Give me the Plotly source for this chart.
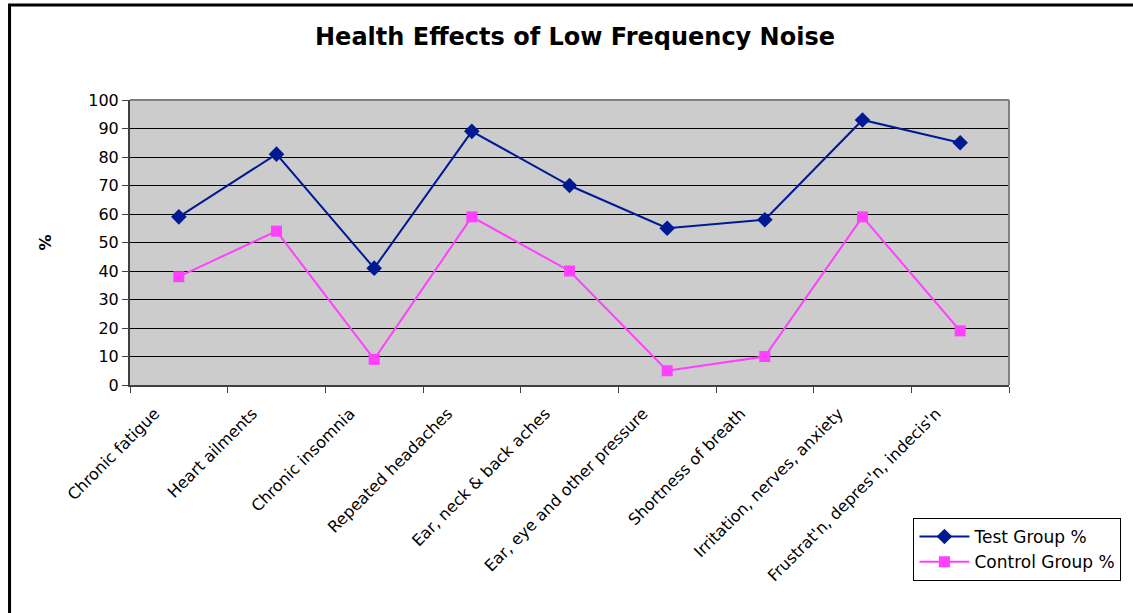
import plotly.graph_objects as go

categories = ["Chronic fatigue", "Heart ailments", "Chronic insomnia", "Repeated headaches",
              "Ear, neck & back aches", "Ear, eye and other pressure", "Shortness of breath",
              "Irritation, nerves, anxiety", "Frustrat'n, depres'n, indecis'n"]
test_group = [59, 81, 41, 89, 70, 55, 58, 93, 85]
control_group = [38, 54, 9, 59, 40, 5, 10, 59, 19]
y_ticks = [0, 10, 20, 30, 40, 50, 60, 70, 80, 90, 100]

FONT = "DejaVu Sans"
NAVY = "#001A94"
PINK = "#FF40FF"

fig = go.Figure()
fig.add_trace(go.Scatter(x=categories, y=test_group, name="Test Group %", mode="lines+markers",
                         line=dict(color=NAVY, width=2),
                         marker=dict(symbol="diamond", size=12, color=NAVY)))
fig.add_trace(go.Scatter(x=categories, y=control_group, name="Control Group %", mode="lines+markers",
                         line=dict(color=PINK, width=2),
                         marker=dict(symbol="square", size=11, color=PINK)))

W, H = 1133, 613
L, R, T, B = 130, 120, 100, 228
pw, ph = W - L - R, H - T - B

def px(xp):
    return (xp - L) / pw

def py(yp):
    return (H - B - yp) / ph

fig.update_layout(
    width=W, height=H,
    margin=dict(l=L, r=R, t=T, b=B),
    paper_bgcolor="white", plot_bgcolor="#CCCCCC",
    font=dict(family=FONT, size=16, color="black"),
    title=dict(text="<b>Health Effects of Low Frequency Noise</b>", x=575 / W, xanchor="center",
               y=1 - 37 / H, yanchor="middle", font=dict(family=FONT, size=24, color="black")),
    showlegend=True,
    legend=dict(x=px(917), y=py(518), xanchor="left", yanchor="top",
                bordercolor="black", borderwidth=1, bgcolor="white", itemwidth=50,
                font=dict(family=FONT, size=17), tracegroupgap=0),
    xaxis=dict(type="category", tickangle=-45, ticks="outside", tickson="boundaries",
               ticklen=6, tickcolor="#404040", showline=True, linecolor="#404040", linewidth=2,
               showgrid=False, range=[-0.5, 8.5], mirror=False, tickfont=dict(size=16),
               ticklabelshift=-24, ticklabelstandoff=11),
    yaxis=dict(range=[0, 100], tickvals=y_ticks, ticks="outside", ticklen=6, tickcolor="#404040",
               showline=True, linecolor="#404040", linewidth=2, showgrid=True,
               gridcolor="black", gridwidth=1, zeroline=False, tickfont=dict(size=16),
               title=dict(text="<b>%</b>", font=dict(size=16), standoff=33)),
)

# plot-area border (top and right, gray)
fig.add_shape(type="line", xref="paper", yref="paper", x0=0, x1=1, y0=1, y1=1,
              line=dict(color="#808080", width=2))
fig.add_shape(type="line", xref="paper", yref="paper", x0=1, x1=1, y0=0, y1=1,
              line=dict(color="#808080", width=2))
# chart frame (cropped: only top and left visible)
fig.add_shape(type="rect", xref="paper", yref="paper", x0=px(9), x1=px(1200), y0=py(700), y1=py(5),
              line=dict(color="black", width=3), layer="above")

fig.write_html("out.html", config={"displayModeBar": False},
               post_script="document.body.style.margin='0';document.body.style.overflow='hidden';")
